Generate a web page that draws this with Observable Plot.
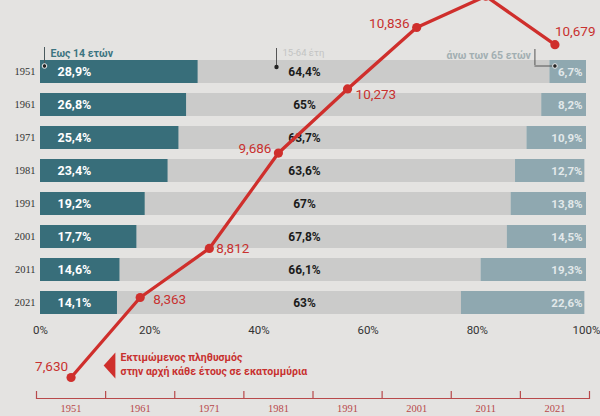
<!DOCTYPE html>
<html><head><meta charset="utf-8">
<script src="https://cdn.jsdelivr.net/npm/d3@7"></script>
<script src="https://cdn.jsdelivr.net/npm/@observablehq/plot@0.6"></script>
<style>
html,body{margin:0;padding:0;background:#e4e3e1;}
#wrap{position:relative;width:600px;height:416px;overflow:hidden;background:#e4e3e1;}
#wrap svg{position:absolute;left:0;top:0;}
</style></head><body><div id="wrap"></div>
<script>
// ---- data ----
const years = [1951, 1961, 1971, 1981, 1991, 2001, 2011, 2021];
const groups = ["0-14", "15-64", "65+"];
const young = [28.9, 26.8, 25.4, 23.4, 19.2, 17.7, 14.6, 14.1];
const adult = [64.4, 65, 63.7, 63.6, 67, 67.8, 66.1, 63];
const old = [6.7, 8.2, 10.9, 12.7, 13.8, 14.5, 19.3, 22.6];
const population = [7.630, 8.363, 8.812, 9.686, 10.273, 10.836, 11.123, 10.679];
const populationLabels = ["7,630", "8,363", "8,812", "9,686", "10,273", "10,836", "", "10,679"];
const percentTicks = [0, 20, 40, 60, 80, 100];
const groupLabels = ["Εως 14 ετών", "15-64 έτη", "άνω των 65 ετών"];
const noteLines = "Εκτιμώμενος πληθυσμός\nστην αρχή κάθε έτους σε εκατομμύρια";

// ---- styles ----
const teal = "#386e7a", gray = "#cbcbca", blue = "#8fa8b0";
const red = "#cf2f2c", labelRed = "#c8312f", axisRed = "#b8494b";
// label placement for each population point (style only)
const placement = [
  {dx: -3, dy: -11, anchor: "end"},
  {dx: 13, dy: 2, anchor: "start"},
  {dx: 7, dy: 0, anchor: "start"},
  {dx: -7, dy: -4, anchor: "end"},
  {dx: 8, dy: 6, anchor: "start"},
  {dx: -7, dy: -4, anchor: "end"},
  {dx: 0, dy: 0, anchor: "start"},
  {dx: 0, dy: -13, anchor: "start"}
];

const fmt = v => String(v).replace(".", ",") + "%";
const rows = years.flatMap((y, i) => [
  {year: y, group: groups[0], value: young[i]},
  {year: y, group: groups[1], value: adult[i]},
  {year: y, group: groups[2], value: old[i]}
]);
const byGroup = g => rows.filter(r => r.group === g);
const first = [years[0]];
const midX = d3.mean([percentTicks[0], percentTicks.at(-1)]);
const oldStart = young[0] + adult[0];
const mL = 40, mR = 14, W = 600;
const pxToPct = 100 / (W - mL - mR);

const plotA = Plot.plot({
  width: W, height: 416,
  marginLeft: mL, marginRight: mR, marginTop: 47, marginBottom: 89,
  style: {background: "transparent", color: "#333", fontFamily: "Roboto, sans-serif", overflow: "visible"},
  x: {domain: [0, 100], axis: null},
  y: {type: "band", domain: years, padding: 0.315, axis: null},
  color: {domain: groups, range: [teal, gray, blue]},
  marks: [
    Plot.barX(rows, {y: "year", x: "value", fill: "group"}),
    Plot.axisY({tickSize: 0, tickPadding: 5, label: null, tickFormat: d => String(d), fontFamily: "Liberation Serif, serif", fontSize: 10.5}),
    Plot.axisX({ticks: percentTicks, tickFormat: d => d + "%", label: null, tickSize: 0, tickPadding: -2, fontSize: 11.5}),
    Plot.text(byGroup(groups[0]), {y: "year", x: 0, dx: 17, text: d => fmt(d.value), textAnchor: "start", fill: "white", fontWeight: "bold", fontSize: 12.5}),
    Plot.text(byGroup(groups[1]), {y: "year", frameAnchor: "middle", dx: -9, text: d => fmt(d.value), fill: "#1b1b1b", fontWeight: "bold", fontSize: 12}),
    Plot.text(byGroup(groups[2]), {y: "year", frameAnchor: "right", dx: -4, text: d => fmt(d.value), textAnchor: "end", fill: "#e2e8ea", fontWeight: "bold", fontSize: 11.5}),
    // group legend with leader lines
    Plot.tickX(first, {x: 0, y: d => d, dx: 4, dy: -13, insetBottom: 5, stroke: "#4a5a5e"}),
    Plot.dot(first, {x: 0, y: d => d, dx: 4, dy: -6, r: 2.3, fill: "#222", stroke: "#eee", strokeWidth: 1}),
    Plot.text(first, {x: 0, y: d => d, dx: 10, dy: -18, text: () => groupLabels[0], textAnchor: "start", fill: "#3c7480", fontWeight: "bold", fontSize: 10.5}),
    Plot.tickX(first, {x: midX, y: d => d, dx: -37, dy: -12, insetBottom: 5, stroke: "#555"}),
    Plot.dot(first, {x: midX, y: d => d, dx: -37, dy: -5, r: 2.2, fill: "#222"}),
    Plot.text(first, {x: midX, y: d => d, dx: -31, dy: -19, text: () => groupLabels[1], textAnchor: "start", fill: "#c3c3c3", fontSize: 9.5}),
    Plot.tickX(first, {x: oldStart, y: d => d, dx: -15, dy: -11, insetBottom: 7, stroke: "#555"}),
    Plot.ruleY(first, {x1: oldStart - 15 * pxToPct, x2: oldStart + 5 * pxToPct, y: d => d, dy: -6, stroke: "#555"}),
    Plot.dot(first, {x: oldStart, y: d => d, dx: 5, dy: -6, r: 2.3, fill: "#222", stroke: "#eee", strokeWidth: 1}),
    Plot.text(first, {x: oldStart, y: d => d, dx: -19, dy: -16, text: () => groupLabels[2], textAnchor: "end", fill: "#a2afb2", fontWeight: "bold", fontSize: 10.5})
  ]
});

const popRows = years.map((y, i) => ({year: y, pop: population[i], label: populationLabels[i]}));
const boundaries = d3.range(years[0] - 5, years.at(-1) + 6, 10);
const leftTriangle = {
  draw(ctx, size) {
    const r = Math.sqrt(size / Math.PI);
    ctx.moveTo(-0.45 * r, 0);
    ctx.lineTo(0.45 * r, -r);
    ctx.lineTo(0.45 * r, r);
    ctx.closePath();
  }
};

const plotB = Plot.plot({
  width: 600, height: 416,
  marginLeft: 36, marginRight: 11, marginTop: 0, marginBottom: 18,
  style: {background: "transparent", color: axisRed, fontFamily: "Roboto, sans-serif", overflow: "visible"},
  x: {domain: [years[0] - 5, years.at(-1) + 5], axis: null},
  y: {domain: [population[0], population[5]], range: [377, 27], axis: null},
  marks: [
    Plot.frame({anchor: "bottom", stroke: axisRed, strokeWidth: 1.2}),
    Plot.axisX({ticks: boundaries, tickSize: 7, dy: -7, label: null, tickFormat: () => "", stroke: axisRed, strokeWidth: 1.2}),
    Plot.axisX({ticks: years, tickSize: 0, tickPadding: 6, label: null, tickFormat: d => String(d), fontFamily: "Liberation Serif, serif", fontSize: 10.5, fill: axisRed}),
    Plot.line(popRows, {x: "year", y: "pop", stroke: red, strokeWidth: 3.3}),
    Plot.dot(popRows, {x: "year", y: "pop", r: 4.6, fill: red}),
    ...popRows.map((d, i) => Plot.text([d], {
      x: "year", y: "pop", text: "label", dx: placement[i].dx, dy: placement[i].dy,
      textAnchor: placement[i].anchor, fill: labelRed, fontSize: 13.5
    })),
    Plot.dot(["note"], {frameAnchor: "bottom-left", dx: 73, dy: -33, r: 13, symbol: leftTriangle, fill: red}),
    Plot.text(["note"], {frameAnchor: "bottom-left", dx: 84, dy: -48, text: () => noteLines, textAnchor: "start", lineAnchor: "top", lineHeight: 1.35, fill: labelRed, fontWeight: "bold", fontSize: 10.5})
  ]
});

const wrap = document.getElementById("wrap");
wrap.appendChild(plotA);
wrap.appendChild(plotB);
</script>
</body></html>
